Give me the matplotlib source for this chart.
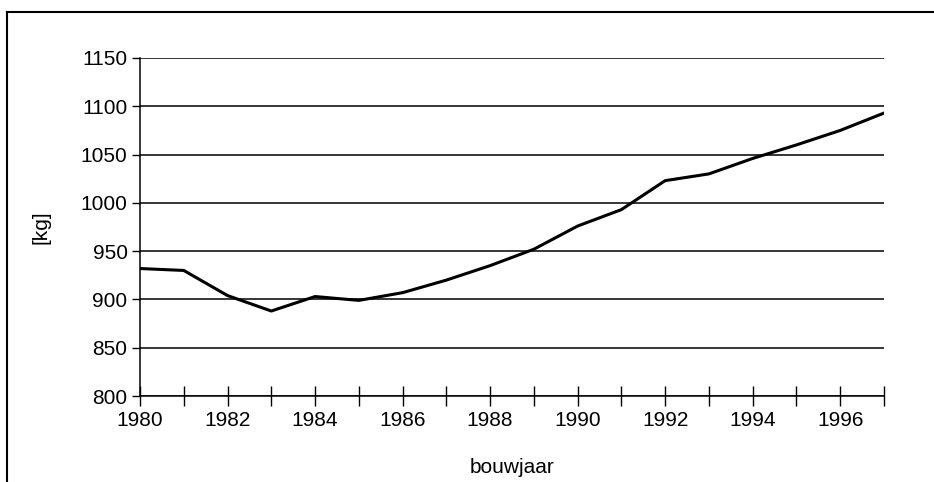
import matplotlib
matplotlib.use("Agg")
import matplotlib.pyplot as plt
from matplotlib.lines import Line2D

years = list(range(1980, 1998))
mass_kg = [932, 930, 904, 888, 903, 899, 907, 920, 935, 952, 976, 993,
           1023, 1030, 1046, 1060, 1075, 1093]
ytick_vals = [800, 850, 900, 950, 1000, 1050, 1100, 1150]
xtick_labels = ["1980", "1982", "1984", "1986", "1988", "1990", "1992", "1994", "1996"]

plt.rcParams['font.family'] = ['Liberation Sans', 'DejaVu Sans']

fig = plt.figure(figsize=(9.34, 4.82), dpi=100)
ax = fig.add_axes([140/934, 1-396/482, (884-140)/934, (396-58)/482])

ax.plot(years, mass_kg, color='black', lw=2.2, solid_joinstyle='round', zorder=3)

ax.set_xlim(1980, 1997)
ax.set_ylim(800, 1150)
ax.set_yticks(ytick_vals)
ax.set_yticklabels([str(v) for v in ytick_vals])
major_x = [int(s) for s in xtick_labels]
ax.set_xticks(major_x)
ax.set_xticklabels(xtick_labels)
ax.set_xticks([y for y in years if y not in major_x], minor=True)

ax.grid(axis='y', color='black', lw=1.1)
ax.set_axisbelow(True)
for s in ['top', 'right']:
    ax.spines[s].set_visible(False)
for s in ['left', 'bottom']:
    ax.spines[s].set_linewidth(1.1)
    ax.spines[s].set_color('black')

ax.tick_params(axis='x', which='both', direction='inout', length=14, width=1.0,
               labelsize=15, pad=4)
ax.tick_params(axis='y', direction='out', length=6, width=1.0, labelsize=15, pad=3)

ax.set_xlabel('bouwjaar', fontsize=15, labelpad=20)
ax.set_ylabel('[kg]', fontsize=15, labelpad=22)

# outer frame (top and left border)
fig.add_artist(Line2D([7/934, 1], [1-11.5/482, 1-11.5/482], color='black', lw=1.5,
                      transform=fig.transFigure))
fig.add_artist(Line2D([7/934, 7/934], [0, 1-11.5/482], color='black', lw=1.5,
                      transform=fig.transFigure))

fig.savefig('out.png', dpi=100)
